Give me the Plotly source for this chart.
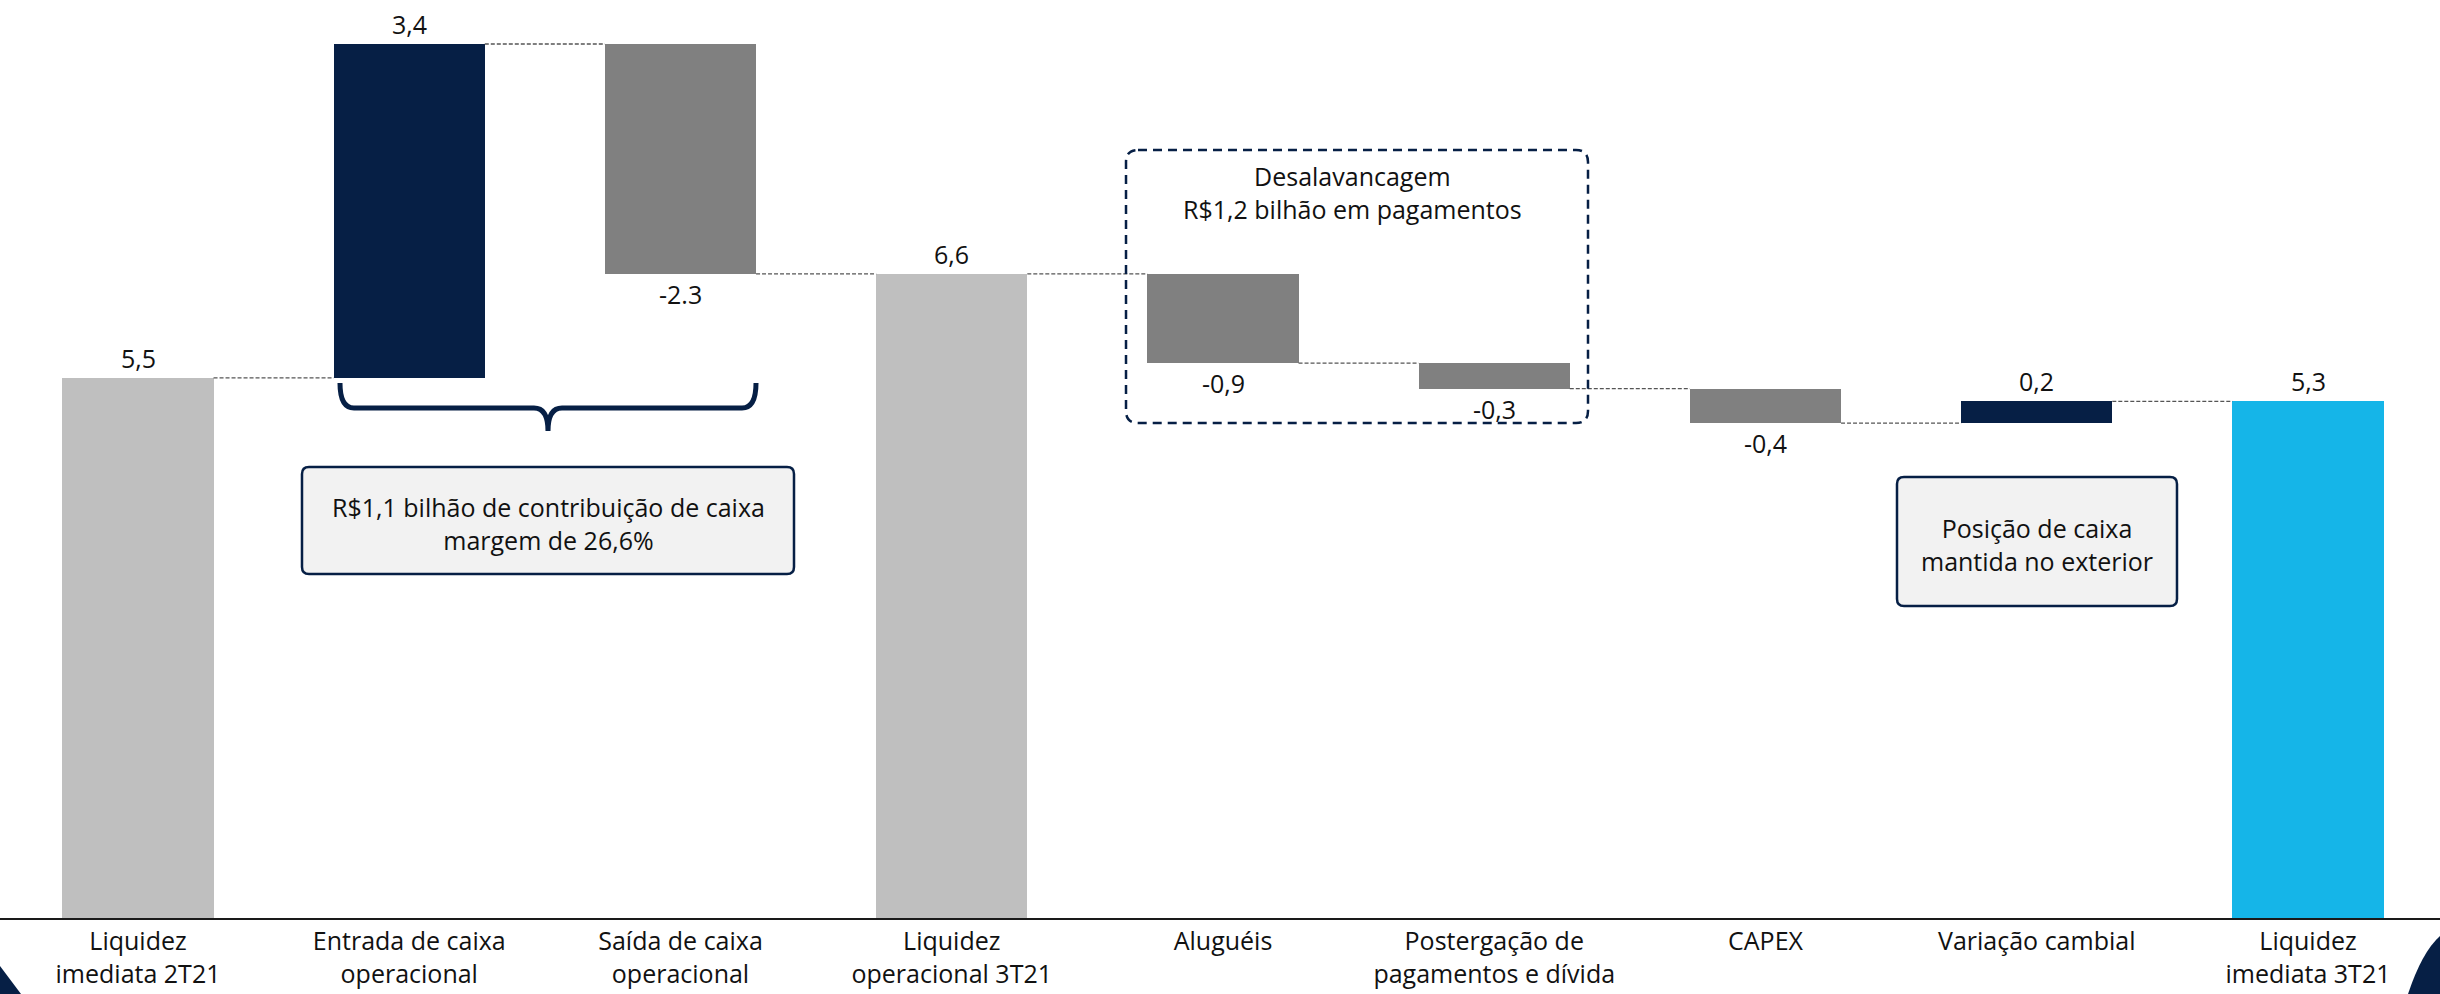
import plotly.graph_objects as go

# ---------------- data ----------------
categories = [
    "Liquidez<br>imediata 2T21",
    "Entrada de caixa<br>operacional",
    "Saída de caixa<br>operacional",
    "Liquidez<br>operacional 3T21",
    "Aluguéis",
    "Postergação de<br>pagamentos e dívida",
    "CAPEX",
    "Variação cambial",
    "Liquidez<br>imediata 3T21",
]
measures = ["absolute", "relative", "relative", "total", "relative",
            "relative", "relative", "relative", "total"]
values = [5.5, 3.4, -2.34, None, -0.91, -0.26, -0.35, 0.22, None]
value_labels = ["5,5", "3,4", "-2.3", "6,6", "-0,9", "-0,3", "-0,4", "0,2", "5,3"]

box1_text = "R$1,1 bilhão de contribuição de caixa<br>margem de 26,6%"
box2_text = "Posição de caixa<br>mantida no exterior"
box3_text = "Desalavancagem<br>R$1,2 bilhão em pagamentos"

# ---------------- styles ----------------
NAVY = "#061F45"
GRAY = "#808080"
LIGHT = "#BFBFBF"
CYAN = "#15B5E8"
FONT = "Open Sans, Noto Sans, sans-serif"
FS = 25
W, H = 2440, 994
PLOT_H = 918  # plot area height (px)

# ---------------- waterfall geometry from data ----------------
bases, heights, ends, colors = [], [], [], []
run = 0.0
for m, v in zip(measures, values):
    if m == "absolute":
        b, h = 0.0, v
        run = v
    elif m == "total":
        b, h = 0.0, run
    else:
        b, h = run, v
        run += v
    bases.append(b)
    heights.append(h)
    ends.append(run)
    if m in ("absolute", "total"):
        colors.append(LIGHT)
    else:
        colors.append(NAVY if v > 0 else GRAY)
colors[-1] = CYAN

x = list(range(len(categories)))
bw = 0.557

fig = go.Figure()
fig.add_trace(go.Bar(
    x=x, y=heights, base=bases, width=bw,
    marker=dict(color=colors, line=dict(width=0)),
    hoverinfo="skip", showlegend=False,
))

# connectors
cx, cy = [], []
for i in range(len(x) - 1):
    cx += [x[i] + bw / 2, x[i + 1] - bw / 2, None]
    cy += [ends[i], ends[i], None]
fig.add_trace(go.Scatter(
    x=cx, y=cy, mode="lines",
    line=dict(color="#555555", width=1.3, dash="4px,2px"),
    hoverinfo="skip", showlegend=False,
))

# value labels
for i, (b, h, t) in enumerate(zip(bases, heights, value_labels)):
    top = b + h
    fig.add_annotation(
        x=x[i], y=top, text=t, showarrow=False,
        xref="x", yref="y", yanchor="middle",
        yshift=20 if h >= 0 else -20,
        font=dict(family=FONT, size=FS, color="#111111"),
    )

# ---------------- decorations (pixel -> paper) ----------------
def PX(v):
    return v / W

def PY(v):
    return (PLOT_H - v) / PLOT_H

def path_from(cmds):
    out = []
    for c, pts in cmds:
        s = c
        s += " ".join(f"{PX(a):.5f},{PY(b):.5f}" for a, b in pts)
        out.append(s)
    return " ".join(out)

def rrect(x0, y0, x1, y1, r):
    return path_from([
        ("M", [(x0 + r, y0)]), ("L", [(x1 - r, y0)]), ("Q", [(x1, y0), (x1, y0 + r)]),
        ("L", [(x1, y1 - r)]), ("Q", [(x1, y1), (x1 - r, y1)]),
        ("L", [(x0 + r, y1)]), ("Q", [(x0, y1), (x0, y1 - r)]),
        ("L", [(x0, y0 + r)]), ("Q", [(x0, y0), (x0 + r, y0)]),
    ]) + " Z"

shapes = []
# brace under bars 2-3
brace = path_from([
    ("M", [(340, 383)]), ("Q", [(340, 408), (354, 408)]),
    ("L", [(534, 408)]), ("Q", [(548, 408), (548, 431)]),
    ("Q", [(548, 408), (562, 408)]),
    ("L", [(742, 408)]), ("Q", [(756, 408), (756, 383)]),
])
shapes.append(dict(type="path", xref="paper", yref="paper", path=brace,
                   line=dict(color=NAVY, width=5), fillcolor="rgba(0,0,0,0)", layer="above"))
# box 1
shapes.append(dict(type="path", xref="paper", yref="paper", path=rrect(302, 467, 794, 574, 7),
                   line=dict(color=NAVY, width=2.5), fillcolor="#F2F2F2", layer="above"))
# box 2
shapes.append(dict(type="path", xref="paper", yref="paper", path=rrect(1897, 477, 2177, 606, 7),
                   line=dict(color=NAVY, width=2.5), fillcolor="#F2F2F2", layer="above"))
# dashed box
shapes.append(dict(type="path", xref="paper", yref="paper", path=rrect(1126, 150, 1588, 423, 12),
                   line=dict(color=NAVY, width=2.5, dash="9px,6px"), fillcolor="rgba(0,0,0,0)", layer="above"))
# corner decorations
shapes.append(dict(type="path", xref="paper", yref="paper",
                   path=path_from([("M", [(0, 966)]), ("L", [(21, 994)]), ("L", [(0, 994)])]) + " Z",
                   line=dict(width=0), fillcolor=NAVY, layer="above"))
shapes.append(dict(type="path", xref="paper", yref="paper",
                   path=path_from([("M", [(2408, 994)]), ("Q", [(2422, 952), (2440, 936)]),
                                   ("L", [(2440, 994)])]) + " Z",
                   line=dict(width=0), fillcolor=NAVY, layer="above"))

annots = [
    (box1_text, 548, 523.5),
    (box2_text, 2037, 544),
    (box3_text, 1352, 192),
]
for t, ax_, ay_ in annots:
    fig.add_annotation(
        x=PX(ax_), y=PY(ay_), xref="paper", yref="paper", text=t,
        showarrow=False, align="center", xanchor="center", yanchor="middle",
        font=dict(family=FONT, size=FS, color="#111111"),
    )

x0 = -138 / 271.25
x1 = (W - 138) / 271.25
ytop = PLOT_H / 98.2

fig.update_layout(
    width=W, height=H,
    margin=dict(l=0, r=0, t=0, b=H - PLOT_H, autoexpand=False),
    paper_bgcolor="white", plot_bgcolor="white",
    shapes=shapes,
    bargap=0,
    xaxis=dict(
        range=[x0, x1], tickmode="array", tickvals=x, ticktext=categories,
        showgrid=False, zeroline=False, showline=True, linecolor="#1a1a1a", linewidth=2,
        ticks="", tickfont=dict(family=FONT, size=FS, color="#111111"), automargin=False,
        fixedrange=True,
    ),
    yaxis=dict(range=[0, ytop], visible=False, fixedrange=True),
    font=dict(family=FONT),
)

fig.write_html(
    "out.html",
    config={"displayModeBar": False},
    post_script="document.body.style.margin='0px';document.body.style.overflow='hidden';",
)
